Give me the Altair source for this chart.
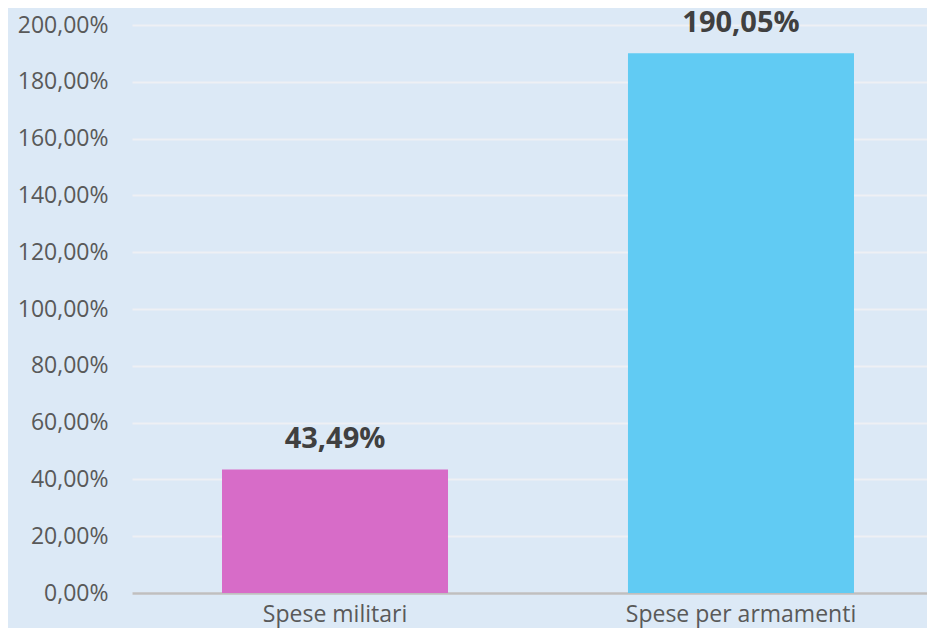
import altair as alt
import pandas as pd

categories = ["Spese militari", "Spese per armamenti"]
values = [43.49, 190.05]
colors = ["#D76CC8", "#61CBF3"]

df = pd.DataFrame({"cat": categories, "val": values, "col": colors})
df["lab"] = [f"{v:.2f}".replace(".", ",") + "%" for v in values]

base = alt.Chart(df).encode(
    x=alt.X("cat:N", sort=categories, title=None,
            scale=alt.Scale(range=[0, 812], paddingInner=0.4433, paddingOuter=0.2217),
            axis=alt.Axis(labelAngle=0, labelFont="Open Sans", labelFontSize=23,
                          labelColor="#595959", labelPadding=10, ticks=False, tickSize=0,
                          domainColor="#BFBFBF", domainWidth=2.5, grid=False,
                          labelBaseline="top", labelLimit=0)),
    y=alt.Y("val:Q", title=None,
            scale=alt.Scale(domain=[0, 200], nice=False),
            axis=alt.Axis(values=list(range(0, 201, 20)),
                          labelExpr="replace(format(datum.value, '.2f'), '.', ',') + '%'",
                          labelFont="Open Sans", labelFontSize=23, labelColor="#595959",
                          labelPadding=24, ticks=False, tickSize=0, domain=False,
                          grid=True, gridColor="#EEF0F4", gridWidth=2)),
)

bars = base.mark_bar().encode(color=alt.Color("col:N", scale=None))
text = base.mark_text(baseline="bottom", dy=-15, font="Open Sans", fontWeight="bold",
                      fontSize=29, color="#404040").encode(text="lab:N")

chart = (bars + text).properties(
    width=795, height=568,
    autosize=alt.AutoSizeParams(type="none"),
    padding={"left": 124, "top": 17, "right": 0, "bottom": 35},
    background="#DCE9F6",
).configure_view(stroke=None)

chart.save("out.html", embed_options={"renderer": "svg", "actions": False})
